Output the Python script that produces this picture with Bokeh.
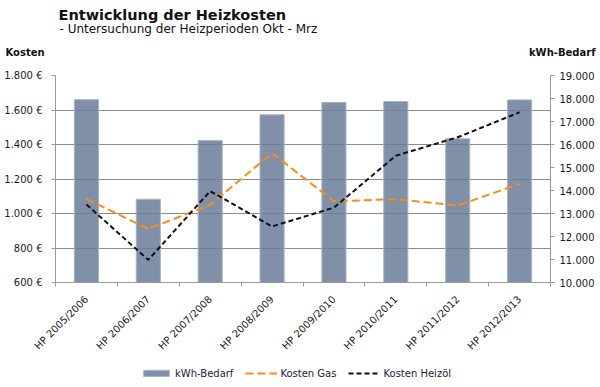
import numpy as np
from math import pi
from bokeh.plotting import figure
from bokeh.layouts import column
from bokeh.models import (Range1d, LinearAxis, FixedTicker, Legend,
                          LegendItem, ColumnDataSource, Label)
from bokeh.embed import file_html
from bokeh.resources import INLINE

# ---- data -------------------------------------------------------------
periods = ["HP 2005/2006", "HP 2006/2007", "HP 2007/2008", "HP 2008/2009",
           "HP 2009/2010", "HP 2010/2011", "HP 2011/2012", "HP 2012/2013"]
kwh_bedarf = [17950, 13620, 16170, 17290, 17830, 17870, 16250, 17940]
kosten_gas = [1085, 911, 1050, 1350, 1071, 1083, 1046, 1172]
kosten_heizoel = [1052, 731, 1130, 925, 1034, 1335, 1442, 1587]

cost_ticks = [600, 800, 1000, 1200, 1400, 1600, 1800]
cost_labels = ["600 €", "800 €", "1.000 €", "1.200 €", "1.400 €", "1.600 €", "1.800 €"]
kwh_ticks = [10000, 11000, 12000, 13000, 14000, 15000, 16000, 17000, 18000, 19000]
kwh_labels = ["10.000", "11.000", "12.000", "13.000", "14.000", "15.000",
              "16.000", "17.000", "18.000", "19.000"]

FONT = "DejaVu Sans"
TXT = "#1a1a1a"
AX = "#9a9a9a"
BAR_FILL = "#697C99"
BAR_LINE = "#A9B4C6"
GAS_COL = "#FF8C0F"
OIL_COL = "#111111"


def blank_fig(h):
    f = figure(width=600, height=h, output_backend="svg", toolbar_location=None,
               x_range=Range1d(0, 1), y_range=Range1d(0, 1),
               x_axis_location=None, y_axis_location=None,
               min_border=0, min_border_left=0, min_border_right=0,
               min_border_top=0, min_border_bottom=0)
    f.frame_align = False
    f.title.visible = False
    f.grid.visible = False
    f.outline_line_color = None
    f.background_fill_color = "white"
    f.border_fill_color = "white"
    return f


# ---- header -------------------------------------------------------------
HEAD_H = 69
head = blank_fig(HEAD_H)
head.add_layout(Label(x=58, y=HEAD_H - 14, x_units="screen", y_units="screen",
                      text="Entwicklung der Heizkosten", text_font=FONT,
                      text_font_style="bold", text_font_size="14.5px",
                      text_color="#111111", text_baseline="alphabetic"))
head.add_layout(Label(x=59, y=HEAD_H - 28.5, x_units="screen", y_units="screen",
                      text="- Untersuchung der Heizperioden  Okt - Mrz", text_font=FONT,
                      text_font_size="12px", text_color="#111111",
                      text_baseline="alphabetic"))
head.add_layout(Label(x=5, y=HEAD_H - 52, x_units="screen", y_units="screen",
                      text="Kosten", text_font=FONT, text_font_style="bold",
                      text_font_size="10px", text_color="#111111",
                      text_baseline="alphabetic"))
head.add_layout(Label(x=595, y=HEAD_H - 52, x_units="screen", y_units="screen",
                      text="kWh-Bedarf", text_font=FONT, text_font_style="bold",
                      text_font_size="10px", text_color="#111111",
                      text_align="right", text_baseline="alphabetic"))

# ---- main chart -----------------------------------------------------------
xc = [i + 0.5 for i in range(len(periods))]
src = ColumnDataSource(dict(x=xc, period=periods, kwh=kwh_bedarf,
                            gas=kosten_gas, oil=kosten_heizoel))

MAIN_H = 293
p = figure(width=600, height=MAIN_H, output_backend="svg", toolbar_location=None,
           x_range=Range1d(0, len(periods)),
           y_range=Range1d(cost_ticks[0], cost_ticks[-1]),
           min_border_left=55, min_border_right=50, min_border_top=6,
           min_border_bottom=MAIN_H - 6 - 207)
p.frame_align = False
p.title.visible = False
p.outline_line_color = None
p.background_fill_color = "white"
p.border_fill_color = "white"
p.extra_y_ranges = {"kwh": Range1d(kwh_ticks[0], kwh_ticks[-1])}

p.xgrid.visible = False
p.ygrid.ticker = FixedTicker(ticks=cost_ticks)
p.ygrid.grid_line_color = "#8c8c8c"
p.ygrid.grid_line_width = 1

ya = p.yaxis[0]
ya.ticker = FixedTicker(ticks=cost_ticks)
ya.major_label_overrides = {t: l for t, l in zip(cost_ticks, cost_labels)}
ya.axis_line_color = AX
ya.major_tick_line_color = AX
ya.major_tick_out = 4
ya.major_tick_in = 0
ya.minor_tick_line_color = None
ya.major_label_standoff = 9
ya.major_label_text_font = FONT
ya.major_label_text_font_size = "10px"
ya.major_label_text_color = TXT

ra = LinearAxis(y_range_name="kwh", ticker=FixedTicker(ticks=kwh_ticks))
ra.major_label_overrides = {t: l for t, l in zip(kwh_ticks, kwh_labels)}
ra.axis_line_color = AX
ra.major_tick_line_color = AX
ra.major_tick_out = 4
ra.major_tick_in = 0
ra.minor_tick_line_color = None
ra.major_label_standoff = 5
ra.major_label_text_font = FONT
ra.major_label_text_font_size = "10px"
ra.major_label_text_color = TXT
p.add_layout(ra, "right")

xa = p.xaxis[0]
xa.ticker = FixedTicker(ticks=xc, minor_ticks=list(range(len(periods) + 1)))
xa.major_label_overrides = {x: s for x, s in zip(xc, periods)}
xa.major_label_orientation = pi / 4
xa.axis_line_color = AX
xa.major_tick_line_color = None
xa.minor_tick_line_color = AX
xa.minor_tick_out = 4
xa.minor_tick_in = 0
xa.major_label_standoff = 9
xa.major_label_text_font = FONT
xa.major_label_text_font_size = "10px"
xa.major_label_text_color = TXT

p.vbar(x="x", top="kwh", bottom=kwh_ticks[0], width=0.39, source=src,
       y_range_name="kwh", fill_color=BAR_FILL, fill_alpha=0.85,
       line_color=BAR_LINE, line_width=1)
p.line(x="x", y="gas", source=src, line_color=GAS_COL, line_width=2,
       line_dash="8 4")
p.line(x="x", y="oil", source=src, line_color=OIL_COL, line_width=2,
       line_dash="5 3")

# ---- legend strip -----------------------------------------------------------
LEG_H = 387 - HEAD_H - MAIN_H
leg = blank_fig(LEG_H)
# placeholder renderers (NaN rows, nothing drawn) that only carry legend styles
empty = ColumnDataSource(dict(x=[np.nan], y=[np.nan], top=[np.nan]))
lb = leg.vbar(x="x", top="top", width=0.1, source=empty, fill_color=BAR_FILL,
              fill_alpha=0.85, line_color=BAR_LINE)
lg = leg.line(x="x", y="y", source=empty, line_color=GAS_COL, line_width=2,
              line_dash="8 4")
lo = leg.line(x="x", y="y", source=empty, line_color=OIL_COL, line_width=2,
              line_dash="5 3")
legend = Legend(items=[LegendItem(label="kWh-Bedarf", renderers=[lb]),
                       LegendItem(label="Kosten Gas", renderers=[lg]),
                       LegendItem(label="Kosten Heizöl", renderers=[lo])],
                orientation="horizontal", location=(140, LEG_H - 18),
                glyph_width=32, glyph_height=8, label_standoff=3, spacing=12,
                padding=0, margin=0, border_line_color=None,
                background_fill_alpha=0, label_text_font=FONT,
                label_text_font_size="10px", label_text_color="#202040",
                label_height=14)
leg.add_layout(legend, "center")

layout = column(head, p, leg, spacing=0)
open("out.html", "w").write(file_html(layout, INLINE))
